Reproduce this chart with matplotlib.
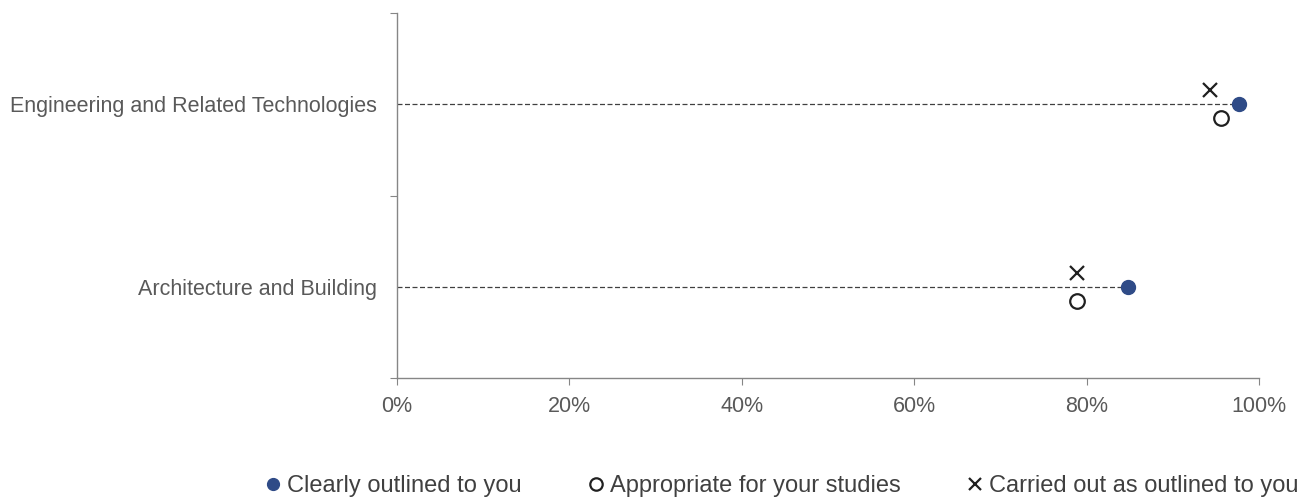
import matplotlib.pyplot as plt
import matplotlib.transforms as mtransforms
from matplotlib.ticker import FuncFormatter

plt.rcParams['font.family'] = ['Liberation Sans', 'DejaVu Sans']

categories = ['Architecture and Building', 'Engineering and Related Technologies']
clearly_outlined = [84.8, 97.6]
appropriate = [78.8, 95.6]
carried_out = [78.8, 94.3]

text_col = '#595959'
axis_col = '#868686'
blue = '#2F4B87'

fig = plt.figure(figsize=(13.01, 5.04), dpi=100)
ax = fig.add_axes([0.305, 0.25, 0.663, 0.724])

ypos = [i + 0.5 for i in range(len(categories))]

# dashed guide lines from axis to the main dot
ax.hlines(ypos, 0, clearly_outlined, colors='#404040', linestyles=(0, (4, 2)), linewidth=0.9, zorder=1)

up = mtransforms.offset_copy(ax.transData, fig=fig, x=0, y=10, units='points')
down = mtransforms.offset_copy(ax.transData, fig=fig, x=0, y=-10, units='points')

ax.plot(clearly_outlined, ypos, 'o', color=blue, markersize=10, linestyle='none',
        label='Clearly outlined to you', zorder=3)
ax.plot(appropriate, ypos, 'o', markerfacecolor='white', markeredgecolor='#202020',
        markeredgewidth=1.6, markersize=10.5, linestyle='none', transform=down,
        label='Appropriate for your studies', zorder=3)
ax.plot(carried_out, ypos, 'x', color='#202020', markeredgewidth=1.6, markersize=10,
        linestyle='none', transform=up, label='Carried out as outlined to you', zorder=3)

ax.set_xlim(0, 100)
ax.set_ylim(0, 2)
ax.set_xticks(range(0, 101, 20))
ax.xaxis.set_major_formatter(FuncFormatter(lambda v, p: f'{v:.0f}%'))
ax.set_yticks([0, 1, 2])
ax.set_yticklabels([])
ax.set_yticks(ypos, minor=True)
ax.set_yticklabels(categories, minor=True)
ax.tick_params(axis='y', which='minor', length=0, pad=14, labelsize=15.5, labelcolor=text_col)
ax.tick_params(axis='y', which='major', length=5, color=axis_col, direction='out')
ax.tick_params(axis='x', length=5, color=axis_col, labelsize=15.5, labelcolor=text_col, pad=8)

for s in ['top', 'right']:
    ax.spines[s].set_visible(False)
for s in ['left', 'bottom']:
    ax.spines[s].set_color(axis_col)
    ax.spines[s].set_linewidth(1)

leg = fig.legend(loc='center', bbox_to_anchor=(0.6, 0.035), ncol=3, frameon=False,
                 handletextpad=0.15, columnspacing=2.7, handlelength=0.9,
                 fontsize=17, markerscale=0.85)
for t in leg.get_texts():
    t.set_color('#404040')

fig.savefig('out.png', dpi=100)
